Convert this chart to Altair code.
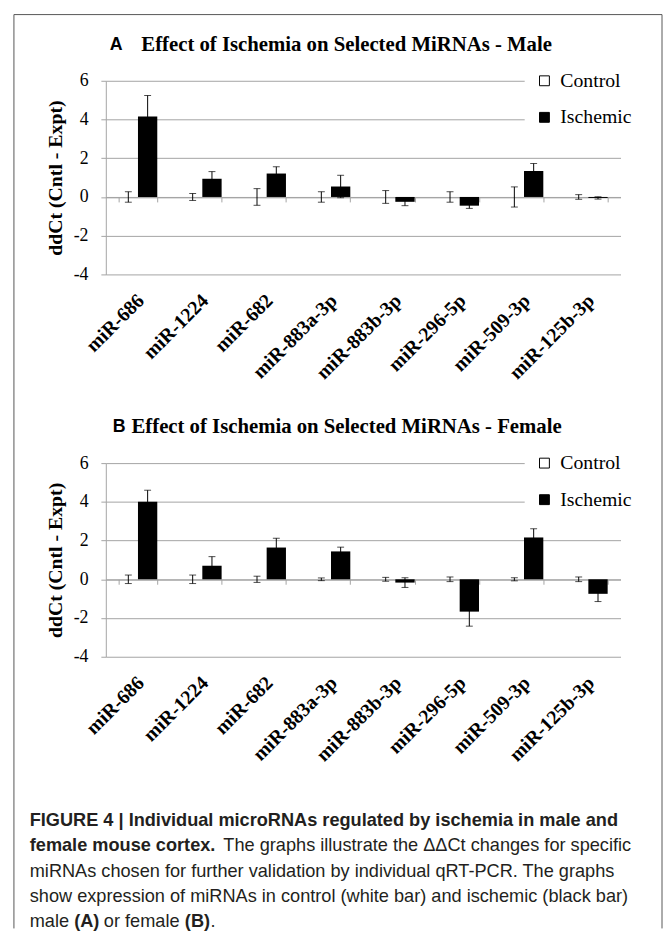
import altair as alt
import pandas as pd

# ---------------- data ----------------
mirnas = ["miR-686", "miR-1224", "miR-682", "miR-883a-3p",
          "miR-883b-3p", "miR-296-5p", "miR-509-3p", "miR-125b-3p"]
groups = ["Control", "Ischemic"]

male_control = [0, 0, 0, 0, 0, 0, 0, 0]
male_control_err = [0.27, 0.18, 0.43, 0.27, 0.33, 0.27, 0.52, 0.12]
male_ischemic = [4.15, 0.94, 1.21, 0.54, -0.25, -0.45, 1.34, -0.05]
male_ischemic_err = [1.09, 0.37, 0.35, 0.58, 0.20, 0.14, 0.39, 0.06]

female_control = [0, 0, 0, 0, 0, 0, 0, 0]
female_control_err = [0.22, 0.22, 0.16, 0.07, 0.10, 0.12, 0.08, 0.12]
female_ischemic = [4.00, 0.70, 1.64, 1.44, -0.17, -1.67, 2.16, -0.75]
female_ischemic_err = [0.60, 0.47, 0.48, 0.22, 0.25, 0.75, 0.45, 0.40]

y_ticks = [-4, -2, 0, 2, 4, 6]
y_title = "ddCt (Cntl - Expt)"
title_a = "Effect of Ischemia on Selected MiRNAs - Male"
title_b = "Effect of Ischemia on Selected MiRNAs - Female"

# ---------------- style ----------------
SERIF = "Liberation Serif"
SANS = "Liberation Sans"
GRID = "#a3a3a3"
BORDER = "#555555"
TXT = "#231f20"
W, H = 521, 196
ZERO_OFF = -H * 4 / 10


def build_df(ctrl, ctrl_err, isch, isch_err):
    rows = []
    for i, m in enumerate(mirnas):
        for g, v, e in (("Control", ctrl[i], ctrl_err[i]), ("Ischemic", isch[i], isch_err[i])):
            rows.append({"miRNA": m, "group": g, "value": v, "lo": v - e, "hi": v + e})
    return pd.DataFrame(rows)


def one(text=""):
    return pd.DataFrame({"t": [text]})


def text_layer(text, x, y, font, size, weight="normal", color="black", baseline="middle"):
    return alt.Chart(one(text)).mark_text(
        align="left", baseline=baseline, font=font, fontSize=size,
        fontWeight=weight, color=color
    ).encode(text="t:N", x=alt.value(x), y=alt.value(y))


Y_SCALE = alt.Scale(domain=[-4, 6], nice=False, zero=False)
Y_AXIS = alt.Axis(
    values=y_ticks, title=y_title, grid=True, gridColor=GRID, gridWidth=1,
    domain=True, domainColor=GRID, ticks=True, tickColor=GRID, tickSize=5,
    labels=True, labelPadding=13, labelExpr="'' + datum.value",
    labelFont=SERIF, labelFontSize=18, labelColor="black",
    titleFont=SERIF, titleFontWeight="bold", titleFontSize=20, titleColor="black",
    titleAlign="center", titleBaseline="middle", titleX=-51, titleY=H / 2)


def yenc(field):
    return alt.Y(field, scale=Y_SCALE, axis=Y_AXIS)


def panel(df, letter, title, letter_x, title_x, extra):
    xscale = alt.Scale(paddingInner=0.4, paddingOuter=0.2)
    x_main = alt.X("miRNA:N", sort=mirnas, scale=xscale, axis=alt.Axis(
        orient="bottom", title=None, labelAngle=-45, labelAlign="right", labelBaseline="top",
        labelFont=SERIF, labelFontWeight="bold", labelFontSize=20, labelColor="black",
        labelPadding=16, labelOffset=-4, domain=False, ticks=False, grid=False))
    x_plain = alt.X("miRNA:N", sort=mirnas, scale=xscale, axis=None)
    xoff = alt.XOffset("group:N", sort=groups)

    base = alt.Chart(df)
    bars = base.mark_bar().encode(
        x=x_main, xOffset=xoff, y=yenc("value:Q"),
        fill=alt.Fill("group:N", scale=alt.Scale(domain=groups, range=["white", "black"]),
                      legend=alt.Legend(
                          title=None, orient="none", legendX=424, legendY=-20,
                          direction="vertical", symbolType="square", symbolSize=100,
                          symbolStrokeColor="black", symbolStrokeWidth=1,
                          labelFont=SERIF, labelFontSize=20, labelColor="black",
                          labelOffset=6, rowPadding=17, padding=10, fillColor="white")))
    zero_axis = base.mark_tick(opacity=0).encode(
        x=alt.X("miRNA:N", sort=mirnas, scale=xscale, axis=alt.Axis(
            orient="bottom", title=None, labels=False, domain=True, domainColor=GRID,
            ticks=True, tickColor=GRID, tickSize=5, tickBand="extent",
            offset=ZERO_OFF, grid=False)),
        y=yenc("value:Q"))
    err = base.mark_rule(color="black", strokeWidth=1).encode(
        x=x_plain, xOffset=xoff, y=yenc("lo:Q"), y2="hi:Q")
    cap_lo = base.mark_tick(color="black", thickness=1, size=7, orient="horizontal").encode(
        x=x_plain, xOffset=xoff, y=yenc("lo:Q"))
    cap_hi = base.mark_tick(color="black", thickness=1, size=7, orient="horizontal").encode(
        x=x_plain, xOffset=xoff, y=yenc("hi:Q"))

    t1 = text_layer(letter, letter_x, -36, SANS, 18, "bold")
    t2 = text_layer(title, title_x, -36, SERIF, 21, "bold")

    layers = [bars, zero_axis, err, cap_lo, cap_hi, t1, t2] + extra
    return alt.layer(*layers).resolve_axis(x="independent").properties(width=W, height=H)


male_df = build_df(male_control, male_control_err, male_ischemic, male_ischemic_err)
female_df = build_df(female_control, female_control_err, female_ischemic, female_ischemic_err)

# border (relative to panel A plot origin)
b = one()
border = [
    alt.Chart(b).mark_rule(color=BORDER, strokeWidth=1).encode(
        x=alt.value(-93), y=alt.value(-67), y2=alt.value(858)),
    alt.Chart(b).mark_rule(color=BORDER, strokeWidth=1).encode(
        x=alt.value(563), y=alt.value(-67), y2=alt.value(858)),
    alt.Chart(b).mark_rule(color=BORDER, strokeWidth=1).encode(
        x=alt.value(-93), x2=alt.value(563), y=alt.value(-67)),
]

# caption (relative to panel B plot origin)
CS = 18.4
cx = -77
caption = [
    text_layer("FIGURE 4 | Individual microRNAs regulated by ischemia in male and",
               cx, 367, SANS, CS, "bold", TXT, "alphabetic"),
    text_layer("female mouse cortex.", cx, 393, SANS, CS, "bold", TXT, "alphabetic"),
    text_layer("The graphs illustrate the \u0394\u0394Ct changes for specific",
               119, 393, SANS, CS, "normal", TXT, "alphabetic"),
    text_layer("miRNAs chosen for further validation by individual qRT-PCR. The graphs",
               cx, 419, SANS, CS, "normal", TXT, "alphabetic"),
    text_layer("show expression of miRNAs in control (white bar) and ischemic (black bar)",
               cx, 444, SANS, CS, "normal", TXT, "alphabetic"),
    text_layer("male", cx, 470, SANS, CS, "normal", TXT, "alphabetic"),
    text_layer("(A)", -32, 470, SANS, CS, "bold", TXT, "alphabetic"),
    text_layer("or female", -2, 470, SANS, CS, "normal", TXT, "alphabetic"),
    text_layer("(B)", 80, 470, SANS, CS, "bold", TXT, "alphabetic"),
    text_layer(".", 106, 470, SANS, CS, "normal", TXT, "alphabetic"),
]

panel_a = panel(male_df, "A", title_a, 4, 36, border)
panel_b = panel(female_df, "B", title_b, 7, 26, caption)

chart = alt.vconcat(panel_a, panel_b, spacing=191, bounds="flush").resolve_legend(
    fill="independent"
).properties(
    padding={"left": 5, "top": 0, "right": 0, "bottom": 0},
    background="white",
).configure_view(stroke=None)

chart.save("out.html", embed_options={"renderer": "svg", "actions": False})
